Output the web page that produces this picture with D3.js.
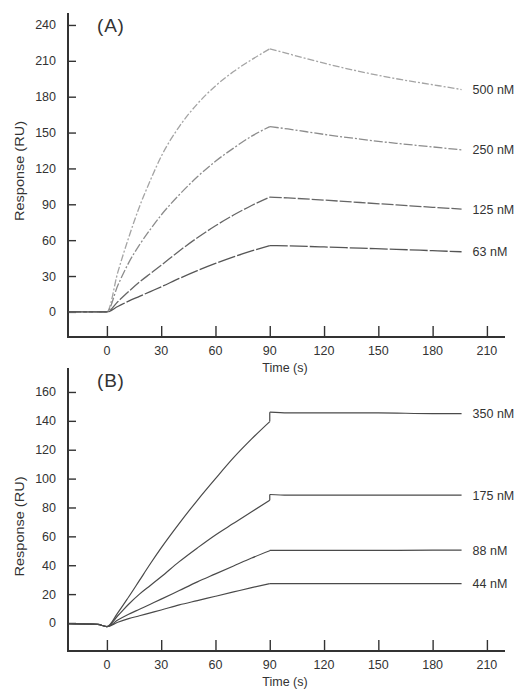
<!DOCTYPE html>
<html>
<head>
<meta charset="utf-8">
<script src="https://cdn.jsdelivr.net/npm/d3@7"></script>
<style>
  body { margin: 0; background: #fff; }
  svg text { font-family: "Liberation Sans", Arial, sans-serif; fill: #333; }
</style>
</head>
<body>
<div class="svg-container"></div>
<script>
// ---- data ----
var xTicks = [0, 30, 60, 90, 120, 150, 180, 210];
var yTicksA = [0, 30, 60, 90, 120, 150, 180, 210, 240];
var yTicksB = [0, 20, 40, 60, 80, 100, 120, 140, 160];

// panel A: association (to 90 s) then dissociation
var timeOnA  = [-21, 0, 6, 12, 18, 24, 30, 40, 50, 60, 70, 80, 90];
var timeOffA = [90, 100, 120, 140, 160, 180, 196];
var on500  = [0, 0, 33, 62, 88, 110, 130, 155, 174, 189, 201, 211, 220];
var off500 = [220, 216, 208, 201, 195, 190, 186];
var on250  = [0, 0, 22, 41, 56, 69, 81, 98, 113, 126, 137, 147, 155];
var off250 = [155, 153, 148.5, 144.5, 141, 138, 135.5];
var on125  = [0, 0, 8.5, 17, 25, 32, 39, 51, 62, 72, 81, 89, 96];
var off125 = [96, 95.3, 93.5, 91.5, 89.5, 87.5, 86];
var on63   = [0, 0, 4.5, 9, 13, 17, 21, 28, 34.5, 40.5, 46, 51, 55.5];
var off63  = [55.5, 55.2, 54.3, 53.3, 52.3, 51.2, 50.3];
var labelsA = ["500 nM", "250 nM", "125 nM", "63 nM"];

// panel B: association (to 90 s) then flat plateau
var timeOnB  = [-21, -5, 0, 6, 12, 18, 24, 30, 40, 50, 60, 70, 80, 90];
var timeOffB = [90, 100, 120, 150, 180, 196];
var on350  = [-0.5, -1, -2.5, 7, 18, 29.5, 41, 52, 69, 85, 100, 114.5, 127.5, 139.5];
var off350 = [146, 145.5, 145.5, 145.5, 145, 145];
var on175  = [-0.5, -1, -2.5, 5, 13, 20, 26, 32, 42.5, 52, 61, 69, 77, 85];
var off175 = [89, 88.5, 88.5, 88.5, 88.5, 88.5];
var on88   = [-0.5, -1, -2.5, 2, 6, 9.5, 13, 16.5, 22.5, 28.5, 34, 39.5, 45, 50];
var off88  = [50.3, 50.3, 50.3, 50.3, 50.5, 50.5];
var on44   = [-0.5, -1, -2.5, 0.5, 3, 5, 7, 9, 12.5, 15.5, 18.5, 21.5, 24.5, 27.3];
var off44  = [27.3, 27.3, 27.3, 27.3, 27.3, 27.3];
var labelsB = ["350 nM", "175 nM", "88 nM", "44 nM"];

var W = 523, H = 689;
var svg = d3.select(".svg-container").append("svg")
    .attr("width", W).attr("height", H);

var x = d3.scaleLinear().domain([-21.5, 220]).range([68, 505]);

var styleA = [
    {color: "#a4a4a4", dash: "7,2,2,2", w: 1.3},
    {color: "#8c8c8c", dash: "9,2,2,2", w: 1.3},
    {color: "#666", dash: "12,2", w: 1.3},
    {color: "#555", dash: "18,2", w: 1.3}
];
var styleB = [
    {color: "#4a4a4a", dash: null, w: 1.2},
    {color: "#4a4a4a", dash: null, w: 1.2},
    {color: "#4a4a4a", dash: null, w: 1.2},
    {color: "#4a4a4a", dash: null, w: 1.2}
];

function drawPanel(opt) {
    var g = svg.append("g");
    var y = d3.scaleLinear().domain(opt.yDomain).range(opt.yRange);
    var axisY = opt.yRange[0];

    // x axis, ticks pointing up into the plot
    var xAxis = g.append("g")
        .attr("transform", "translate(0," + axisY + ")")
        .call(d3.axisTop(x).tickValues(xTicks).tickSize(11).tickFormat(""));
    xAxis.select(".domain").remove();
    xAxis.selectAll("line").attr("stroke", "#333").attr("stroke-width", 1.4);
    g.selectAll(".xlab").data(xTicks).enter().append("text")
        .attr("x", function(d) { return x(d); })
        .attr("y", axisY + 18)
        .attr("text-anchor", "middle")
        .attr("font-size", 12.5)
        .text(function(d) { return d; });

    // y axis, ticks pointing right
    var yAxis = g.append("g")
        .attr("transform", "translate(" + x.range()[0] + ",0)")
        .call(d3.axisRight(y).tickValues(opt.yTicks).tickSize(8).tickFormat(""));
    yAxis.select(".domain").remove();
    yAxis.selectAll("line").attr("stroke", "#333").attr("stroke-width", 1.4);
    g.selectAll(".ylab").data(opt.yTicks).enter().append("text")
        .attr("x", x.range()[0] - 12)
        .attr("y", function(d) { return y(d) + 4.5; })
        .attr("text-anchor", "end")
        .attr("font-size", 12.5)
        .text(function(d) { return d; });

    g.append("path")
        .attr("d", d3.line()([[x.range()[0], opt.yRange[1]], [x.range()[0], axisY], [x.range()[1], axisY]]))
        .attr("fill", "none").attr("stroke", "#333").attr("stroke-width", 2);

    var line = d3.line()
        .x(function(d) { return x(d[0]); })
        .y(function(d) { return y(d[1]); })
        .curve(d3.curveMonotoneX);

    opt.on.forEach(function(vals, i) {
        var st = opt.styles[i];
        var onPts = opt.timeOn.map(function(t, k) { return [t, vals[k]]; });
        var offPts = opt.timeOff.map(function(t, k) { return [t, opt.off[i][k]]; });
        var join = [onPts[onPts.length - 1], offPts[0]];
        [line(onPts), d3.line()(join.map(function(p) { return [x(p[0]), y(p[1])]; })), line(offPts)]
            .forEach(function(d) {
                g.append("path")
                    .attr("d", d)
                    .attr("fill", "none")
                    .attr("stroke", st.color)
                    .attr("stroke-width", st.w)
                    .attr("stroke-dasharray", st.dash);
            });
        var last = offPts[offPts.length - 1];
        g.append("text")
            .attr("x", x(last[0]) + 11)
            .attr("y", y(last[1]) + 4.5)
            .attr("font-size", 12.5)
            .text(opt.labels[i]);
    });

    g.append("text")
        .attr("x", 97).attr("y", opt.yRange[1] + 19)
        .attr("font-size", 19)
        .attr("letter-spacing", 0.8)
        .text(opt.tag);
    g.append("text")
        .attr("x", 285).attr("y", axisY + 35)
        .attr("text-anchor", "middle")
        .attr("font-size", 12.5)
        .text("Time (s)");
    var yMid = (opt.yRange[0] + opt.yRange[1]) / 2 + opt.labelShift;
    g.append("text")
        .attr("transform", "translate(24," + yMid + ") rotate(-90)")
        .attr("text-anchor", "middle")
        .attr("font-size", 13.5)
        .attr("textLength", 100)
        .attr("lengthAdjust", "spacingAndGlyphs")
        .text("Response (RU)");
}

drawPanel({
    tag: "(A)",
    yDomain: [-21, 250], yRange: [337, 13], yTicks: yTicksA,
    timeOn: timeOnA, timeOff: timeOffA,
    on: [on500, on250, on125, on63], off: [off500, off250, off125, off63],
    labels: labelsA, styles: styleA, labelShift: -4
});

drawPanel({
    tag: "(B)",
    yDomain: [-19.4, 176.6], yRange: [651, 368], yTicks: yTicksB,
    timeOn: timeOnB, timeOff: timeOffB,
    on: [on350, on175, on88, on44], off: [off350, off175, off88, off44],
    labels: labelsB, styles: styleB, labelShift: 17
});
</script>
</body>
</html>
